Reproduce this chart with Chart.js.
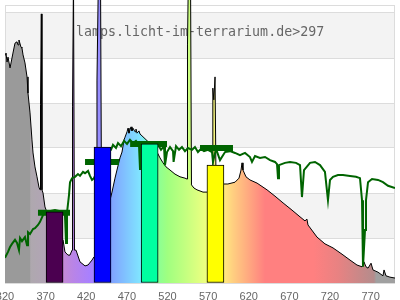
<!DOCTYPE html>
<html>
<head>
<meta charset="utf-8">
<script src="https://cdn.jsdelivr.net/npm/chart.js@4"></script>
<style>
  html, body { margin: 0; padding: 0; background: #fff; overflow: hidden; }
  #wrap { position: relative; width: 400px; height: 300px; overflow: hidden; }
  canvas { position: absolute; left: 0; top: 0; }
</style>
</head>
<body>
<div id="wrap"><canvas id="c" width="400" height="303"></canvas></div>
<script>
// lamp spectrum (nm / relative value)
const lampNm = [320, 321.2, 322.5, 323.7, 326.2, 328.6, 329.8, 332.3, 334.8, 336, 337.2, 339.7, 340.9, 342.2, 344.6,
  347.1, 348.3, 350.8, 353.2, 354.5, 356.9, 359.4, 361.8, 363.1, 363.7, 364.7, 365.5, 366.8, 369.2, 375.4, 381.5,
  387.7, 391.4, 393.8, 397.5, 400, 402.5, 403.1, 404.3, 405.5, 407.4, 412.3, 418.5, 422.2, 427.1, 429.5, 432.6,
  433.2, 435.1, 437.5, 438.8, 443.1, 449.2, 451.7, 455.4, 457.8, 461.5, 464, 466.5, 467.7, 470.2, 471.4, 472.6,
  473.8, 475.1, 476.3, 477.5, 480, 481.2, 482.5, 484.9, 486.2, 488.6, 498.5, 507.1, 510.8, 514.5, 518.2, 523.1,
  529.2, 535.4, 541.5, 544, 544.6, 545.8, 548.3, 549.5, 552.6, 556.3, 563.7, 568.6, 574.8, 575.8, 577, 578.5,
  579.7, 584.6, 589.4, 594.3, 603.1, 608, 610.5, 611.7, 612.9, 616.6, 621.5, 630.2, 642.5, 652.3, 662.2, 673.2,
  683.1, 689.2, 691.6, 692.9, 704, 713.8, 723.7, 734.8, 744.6, 753.2, 759.4, 761.8, 764.3, 766.8, 770.5, 772.9,
  779.1, 785.2, 786.5, 788.9, 793.8, 800];
const lampVal = [5.07, 5.11, 4.91, 5.02, 4.78, 5.0, 5.11, 5.33, 5.36, 5.29, 5.4, 5.24, 5.22, 5.07, 4.89,
  4.58, 4.22, 3.78, 3.18, 2.89, 2.58, 2.36, 2.13, 2.07, 3.96, 5.98, 2.07, 2.0, 1.69, 1.4, 1.18,
  1.0, 0.96, 0.69, 0.62, 0.62, 0.73, 3.93, 6.8, 0.73, 0.73, 0.47, 0.38, 0.4, 0.51, 0.58, 0.62,
  4.51, 7.0, 7.0, 1.84, 1.7, 1.84, 2.02, 2.33, 2.51, 2.78, 2.91, 3.18, 3.24, 3.36, 3.44, 3.33,
  3.4, 3.47, 3.38, 3.44, 3.36, 3.42, 3.33, 3.38, 3.31, 3.27, 3.1, 2.91, 2.78, 2.67, 2.58, 2.51,
  2.42, 2.36, 2.33, 2.31, 5.29, 7.0, 7.0, 2.18, 2.11, 2.07, 2.02, 2.02, 2.07, 4.33, 4.07, 4.58,
  2.29, 2.2, 2.2, 2.2, 2.24, 2.33, 2.51, 2.67, 2.51, 2.36, 2.29, 2.22, 2.07, 1.93, 1.78, 1.62,
  1.47, 1.38, 1.42, 1.29, 1.02, 0.87, 0.78, 0.64, 0.51, 0.4, 0.36, 0.47, 0.36, 0.33, 0.44, 0.29,
  0.24, 0.16, 0.29, 0.16, 0.13, 0.11];

// daylight reference
const sunNm = [320, 323.7, 326.2, 328.6, 332.3, 334.8, 337.2, 338.5, 340.9, 344.6, 347.1, 348.3, 350.8, 354.5,
  356.9, 360.6, 363.1, 366.8, 370.5, 381.5, 391.4, 393.8, 395.1, 396.3, 398.8, 400, 402.5, 406.2, 409.8, 412.3,
  416, 418.5, 422.2, 424.6, 427.1, 429.5, 436.9, 444.3, 450.5, 452.9, 456.6, 459.1, 462.8, 466.5, 470.2, 473.8,
  477.5, 481.2, 484.9, 486.2, 487.4, 498.5, 508.3, 512, 515.7, 516.9, 519.4, 523.1, 526.8, 527.5, 530.5, 534.2,
  537.8, 541.5, 545.2, 550.2, 553.8, 557.5, 561.2, 564.9, 569.8, 574.8, 576, 579.7, 584.6, 590.8, 596.9, 603.1,
  609.2, 615.4, 621.5, 624, 627.7, 633.8, 640, 646.2, 652.3, 654.8, 656, 657.2, 664.6, 670.8, 678.2, 683.1,
  685.5, 688, 695.4, 701.5, 707.7, 713.8, 717.5, 720, 723.7, 729.8, 736, 744.6, 752, 756.9, 759.4, 760.6, 763.1,
  764.3, 766.8, 771.7, 779.1, 785.2, 791.4, 800];
const sunVal = [0.56, 0.69, 0.8, 0.87, 0.96, 0.89, 0.73, 1.0, 0.93, 1.02, 0.84, 1.13, 1.09, 1.2,
  1.22, 1.29, 1.36, 1.51, 1.58, 1.62, 1.58, 1.51, 0.89, 1.56, 1.96, 2.24, 2.33, 2.36, 2.42, 2.38,
  2.47, 2.44, 2.49, 2.38, 2.29, 2.33, 2.62, 2.84, 2.96, 3.07, 3.0, 3.11, 3.04, 3.16, 3.09, 3.18,
  3.11, 3.16, 3.07, 2.51, 3.13, 3.09, 3.07, 2.96, 3.04, 2.62, 2.91, 3.02, 2.93, 2.69, 3.04, 2.96,
  3.02, 2.93, 3.0, 2.96, 3.02, 2.91, 2.98, 2.93, 2.96, 2.91, 2.69, 2.98, 2.73, 2.91, 2.93, 2.89,
  2.84, 2.89, 2.8, 2.69, 2.82, 2.78, 2.8, 2.73, 2.69, 2.64, 2.33, 2.62, 2.67, 2.69, 2.67, 2.62,
  1.91, 2.51, 2.67, 2.69, 2.62, 2.47, 1.84, 2.29, 2.36, 2.4, 2.4, 2.38, 2.36, 2.33, 1.84, 0.36, 1.18,
  1.84, 2.24, 2.31, 2.29, 2.24, 2.16, 2.11];

// band averages
const lampBinNm = [381, 440, 498, 579];
const lampBinVal = [1.58, 3.02, 3.09, 2.62];
const lampBinColors = ['#4b0050', '#0000ff', '#00ffa0', '#ffff00'];
const sunBinFrom = [360.6, 418.5, 474, 560];
const sunBinTo = [400, 460.3, 519.4, 600.6];
const sunBinVal = [1.56, 2.69, 3.09, 3.0];

const tickNm = [320, 370, 420, 470, 520, 570, 620, 670, 720, 770];
const caption = 'lamps.licht-im-terrarium.de>297';

// pastel spectrum colours under the lamp curve
const fillStops = [[320, '#9a9a9a'], [351, '#9a9a9a'], [351.5, '#aea8ae'], [370, '#b2a4b6'], [391, '#c48ad4'],
  [405, '#b884e8'], [425, '#a880ff'], [450, '#80a0ff'], [487, '#80e6ff'], [495, '#80ffd0'], [507, '#88ff98'],
  [520, '#a0ff80'], [540, '#c0ff80'], [566, '#ecff80'], [590, '#ffe880'], [600, '#ffd080'], [620, '#ffa880'],
  [640, '#ff8080'], [700, '#ff8080'], [730, '#e88282'], [774, '#b48c8c'], [777, '#a0a0a0'], [800, '#a0a0a0']];

const FRAME_TOP = 278 / 45;

const sunBins = [];
sunBinVal.forEach((v, i) => {
  sunBins.push({ x: sunBinFrom[i], y: v }, { x: sunBinTo[i], y: v }, { x: sunBinTo[i], y: null });
});

const backdrop = {
  id: 'backdrop',
  beforeDraw(chart) {
    const { ctx, chartArea: a, scales: { y } } = chart;
    ctx.save();
    ctx.fillStyle = '#fff';
    ctx.fillRect(0, 0, chart.width, chart.height);
    ctx.fillStyle = '#f3f3f3';
    for (let v = 1; v < 6; v += 2) {
      const t = y.getPixelForValue(v + 1), b = y.getPixelForValue(v);
      ctx.fillRect(a.left, t, a.right - a.left, b - t);
    }
    const top = Math.round(y.getPixelForValue(FRAME_TOP)) + 0.5;
    const bot = Math.round(y.getPixelForValue(0)) + 0.5;
    ctx.strokeStyle = '#dcdcdc';
    ctx.lineWidth = 1;
    ctx.strokeRect(Math.round(a.left) + 0.5, top, Math.round(a.right - a.left) - 1, bot - top);
    ctx.restore();
  },
  beforeDatasetsDraw(chart) {
    const ctx = chart.ctx;
    ctx.save();
    ctx.font = '13.3px "DejaVu Sans Mono", monospace';
    ctx.fillStyle = '#666';
    ctx.textBaseline = 'alphabetic';
    ctx.fillText(caption, 76, 36);
    ctx.restore();
  }
};

new Chart(document.getElementById('c'), {
  type: 'line',
  data: {
    datasets: [
      {
        type: 'bar',
        data: lampBinNm.map((x, i) => ({ x, y: lampBinVal[i] })),
        backgroundColor: lampBinColors,
        borderColor: '#000',
        borderWidth: 1,
        borderSkipped: false,
        barThickness: 17,
        order: 1
      },
      {
        data: sunBins,
        borderColor: '#006400',
        borderWidth: 6,
        borderCapStyle: 'butt',
        spanGaps: false,
        pointRadius: 0,
        fill: false,
        order: 2
      },
      {
        data: sunNm.map((x, i) => ({ x, y: sunVal[i] })),
        borderColor: '#006400',
        borderWidth: 2,
        pointRadius: 0,
        fill: false,
        tension: 0,
        order: 3
      },
      {
        data: lampNm.map((x, i) => ({ x, y: lampVal[i] })),
        borderColor: '#000',
        borderWidth: 1,
        pointRadius: 0,
        tension: 0,
        fill: 'origin',
        backgroundColor(c) {
          const chart = c.chart;
          if (!chart.chartArea) return '#9a9a9a';
          const xs = chart.scales.x;
          const g = chart.ctx.createLinearGradient(xs.getPixelForValue(320), 0, xs.getPixelForValue(800), 0);
          fillStops.forEach(([nm, col]) => g.addColorStop((nm - 320) / 480, col));
          return g;
        },
        order: 4
      }
    ]
  },
  options: {
    responsive: false,
    animation: false,
    events: [],
    layout: { padding: { left: 5, right: 5, top: 0, bottom: 0 } },
    plugins: { legend: { display: false }, tooltip: { enabled: false }, title: { display: false } },
    scales: {
      x: {
        type: 'linear',
        min: 320,
        max: 800,
        offset: false,
        grid: { display: false, drawTicks: false, offset: false },
        border: { display: false },
        afterBuildTicks(s) { s.ticks = tickNm.map(v => ({ value: v })); },
        afterFit(s) { s.paddingLeft = 0; s.paddingRight = 0; s.height = 20; },
        ticks: {
          padding: 7,
          color: '#666',
          maxRotation: 0,
          autoSkip: false,
          font: { family: '"Liberation Sans", Arial, sans-serif', size: 11 }
        }
      },
      y: {
        min: 0,
        max: 283 / 45,
        ticks: { display: false, stepSize: 1, includeBounds: false },
        grid: { color: '#dcdcdc', drawTicks: false },
        border: { display: false }
      }
    }
  },
  plugins: [backdrop]
});
</script>
</body>
</html>
